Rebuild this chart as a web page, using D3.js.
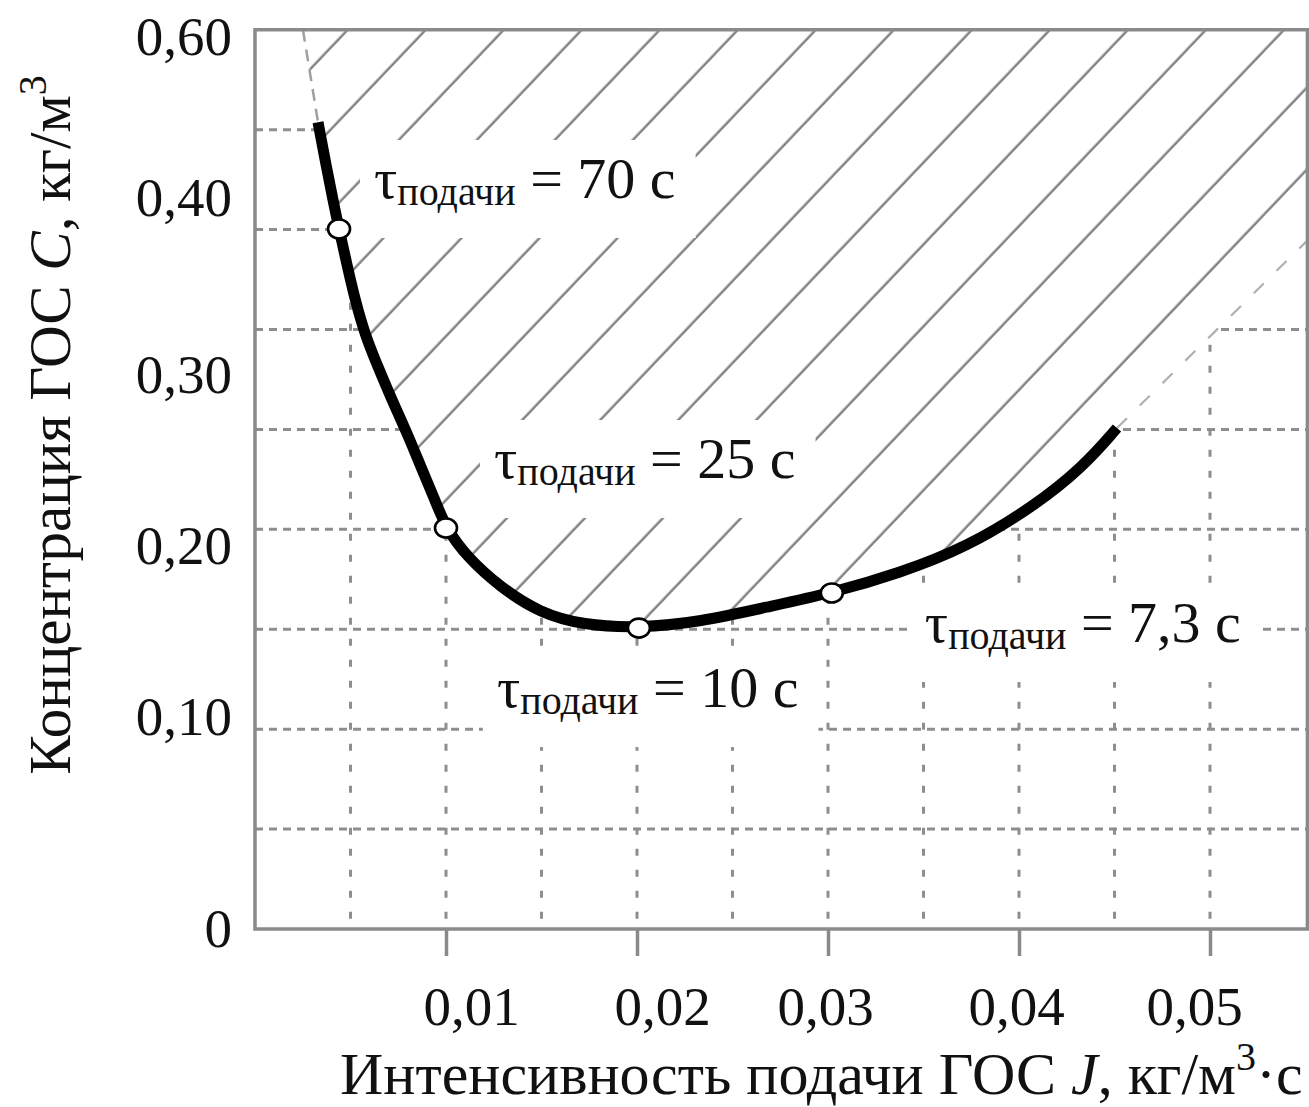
<!DOCTYPE html>
<html>
<head>
<meta charset="utf-8">
<script src="https://cdn.jsdelivr.net/npm/d3@7/dist/d3.min.js"></script>
<style>
body{margin:0;background:#fff}
svg{display:block}
text{font-family:"Liberation Serif","Times New Roman",serif;fill:#111}
</style>
</head>
<body>
<svg id="chart"></svg>
<script>
//curve: J (kg/m3 s) and C (kg/m3)
var curveJ=[0.0033,0.00372,0.00408,0.0044,0.00482,0.00524,0.00576,0.00644,0.00717,0.00796,0.00869,0.00942,0.0100,0.0111,0.01283,0.01492,0.01717,0.0201,0.0233,0.0268,0.0302,0.03377,0.03728,0.04073,0.04335,0.04513]
var curveC=[0.494,0.441,0.399,0.3825,0.3621,0.3424,0.3226,0.3045,0.2854,0.2661,0.2462,0.2269,0.2105,0.1936,0.176,0.1608,0.1538,0.152,0.1556,0.1643,0.1725,0.1842,0.1994,0.2228,0.2462,0.269]

//marked points and their feed times
var pointJ=[0.0044,0.0100,0.0201,0.0302]
var pointC=[0.3825,0.2105,0.152,0.1725]
var pointTau=["70","25","10","7,3"]

//dashed extensions of the boundary of the hatched zone
var leftExtJ=[0.00251,0.0033]
var leftExtC=[0.609,0.494]
var rightExtJ=[0.04513,0.0551]
var rightExtC=[0.269,0.376]

//axis ticks
var xTicks=[0.01,0.02,0.03,0.04,0.05]
var yTicks=[0,0.1,0.2,0.3,0.4,0.6]
var xGridStep=0.005
var xMax=0.0551
var yMax=0.609

var screen={width:1309,height:1107}
var svg=d3.select("#chart")
    .attr("width",screen.width)
    .attr("height",screen.height)

var xScale=d3.scaleLinear()
    .domain([0,0.05])
    .range([255,1210])
//the printed y axis is not evenly spaced, so the scale follows its labels
var yScale=d3.scaleLinear()
    .domain(yTicks)
    .range([929,717,546,375,198,37])

var plotLeft=xScale(0),plotRight=xScale(xMax),plotBottom=yScale(0),plotTop=yScale(yMax)

var comma=function(d){
    if(d==0){return "0"}
    return d3.format(".2f")(d).replace(".",",")
}

var zip=function(a,b){
    return a.map(function(v,i){return [v,b[i]]})
}
var curve=zip(curveJ,curveC)
var points=pointJ.map(function(j,i){return {J:j,C:pointC[i],tau:pointTau[i]}})

var line=d3.line()
    .x(function(d){return xScale(d[0])})
    .y(function(d){return yScale(d[1])})
    .curve(d3.curveBasis)
var straight=d3.line()
    .x(function(d){return xScale(d[0])})
    .y(function(d){return yScale(d[1])})

//hatch pattern, lines at about 46 degrees
var defs=svg.append("defs")
var hatchStep=56.5
var hatchRot=43.6
var ang=hatchRot*Math.PI/180
var hatchOff=((425.5*Math.cos(ang)+30*Math.sin(ang))%hatchStep)
var pat=defs.append("pattern")
    .attr("id","hatch")
    .attr("patternUnits","userSpaceOnUse")
    .attr("width",hatchStep)
    .attr("height",20)
    .attr("patternTransform","rotate("+hatchRot+")")
pat.append("rect").attr("width",hatchStep).attr("height",20).attr("fill","#fff")
pat.append("line")
    .attr("x1",hatchOff).attr("x2",hatchOff)
    .attr("y1",-1).attr("y2",21)
    .attr("stroke","#808080")
    .attr("stroke-width",2.4)

defs.append("clipPath").attr("id","plotclip")
    .append("rect")
    .attr("x",plotLeft).attr("y",plotTop)
    .attr("width",plotRight-plotLeft).attr("height",plotBottom-plotTop)

var plot=svg.append("g").attr("clip-path","url(#plotclip)")

//grid: vertical every 0.005, horizontal 8 evenly spaced rows
var gridX=d3.range(1,11).map(function(i){return i*xGridStep})
var rowScale=d3.scaleLinear().domain([0,9]).range([plotBottom,plotTop])
plot.append("g").selectAll("line")
    .data(gridX)
    .enter()
    .append("line")
    .attr("x1",function(d){return xScale(d)})
    .attr("x2",function(d){return xScale(d)})
    .attr("y1",plotTop).attr("y2",plotBottom)
    .attr("stroke","#8e8e8e")
    .attr("stroke-width",3)
    .attr("stroke-dasharray","7,14")
plot.append("g").selectAll("line")
    .data(d3.range(1,9))
    .enter()
    .append("line")
    .attr("x1",plotLeft).attr("x2",plotRight)
    .attr("y1",function(d){return rowScale(d)})
    .attr("y2",function(d){return rowScale(d)})
    .attr("stroke","#8e8e8e")
    .attr("stroke-width",3)
    .attr("stroke-dasharray","8,6")

//hatched zone above the curve
var zoneStart=[leftExtJ[0],yMax]
var zoneEnd=[[rightExtJ[1],rightExtC[1]],[rightExtJ[1],yMax]]
plot.append("path")
    .attr("d","M"+xScale(zoneStart[0])+","+yScale(zoneStart[1])
        +"L"+line(curve).slice(1)
        +"L"+straight(zoneEnd).slice(1)+"Z")
    .attr("fill","url(#hatch)")

//boundary extensions
plot.append("path")
    .attr("d",straight(zip(leftExtJ,leftExtC)))
    .attr("fill","none").attr("stroke","#a0a0a0").attr("stroke-width",2.5)
    .attr("stroke-dasharray","12,8")
plot.append("path")
    .attr("d",straight(zip(rightExtJ,rightExtC)))
    .attr("fill","none").attr("stroke","#b0b0b0").attr("stroke-width",2.2)
    .attr("stroke-dasharray","14,18")

//labels of feed time with white boxes
var labelShift=[[35,-31],[48,-50],[-142,79],[93,49]]
var boxLayer=plot.append("g")
var labelLayer=svg.append("g")
points.forEach(function(p,i){
    var t=labelLayer.append("text")
        .attr("x",xScale(p.J)+labelShift[i][0])
        .attr("y",yScale(p.C)+labelShift[i][1])
        .attr("font-size",58)
    t.append("tspan").text("τ")
    t.append("tspan").attr("font-size",40).attr("dy",7).text("подачи")
    t.append("tspan").attr("dy",-7).text(" = "+p.tau+" с")
    var b=t.node().getBBox()
    boxLayer.append("rect")
        .attr("x",b.x-14)
        .attr("y",b.y-6)
        .attr("width",b.width+34)
        .attr("height",b.height+30)
        .attr("fill","#fff")
})

//main curve
svg.append("path")
    .attr("d",line(curve))
    .attr("fill","none")
    .attr("stroke","#000")
    .attr("stroke-width",11)

svg.append("g").selectAll("ellipse")
    .data(points)
    .enter()
    .append("ellipse")
    .attr("cx",function(d){return xScale(d.J)})
    .attr("cy",function(d){return yScale(d.C)})
    .attr("rx",11)
    .attr("ry",9.5)
    .attr("fill","#fff")
    .attr("stroke","#000")
    .attr("stroke-width",2.6)

//frame
svg.append("rect")
    .attr("x",plotLeft).attr("y",plotTop)
    .attr("width",plotRight-plotLeft).attr("height",plotBottom-plotTop)
    .attr("fill","none")
    .attr("stroke","#8a8a8a")
    .attr("stroke-width",3.5)

//axes
var xLabelShift=[25,25,-3,-3,-16]
var xAxis=svg.append("g")
    .attr("transform","translate(0,"+plotBottom+")")
    .call(d3.axisBottom(xScale).tickValues(xTicks).tickSize(27).tickPadding(30).tickFormat(comma))
xAxis.select(".domain").remove()
xAxis.selectAll(".tick line").attr("stroke","#8a8a8a").attr("stroke-width",3.5)
xAxis.selectAll(".tick text")
    .attr("font-size",55)
    .attr("font-family","Liberation Serif")
    .attr("fill","#111")
    .attr("dx",function(d,i){return xLabelShift[i]})

var yAxis=svg.append("g")
    .attr("transform","translate("+plotLeft+",0)")
    .call(d3.axisLeft(yScale).tickValues(yTicks).tickSize(0).tickPadding(23).tickFormat(comma))
yAxis.select(".domain").remove()
yAxis.selectAll(".tick text")
    .attr("font-size",55)
    .attr("font-family","Liberation Serif")
    .attr("fill","#111")

//axis titles
var xt=svg.append("text")
    .attr("x",340)
    .attr("y",1094)
    .attr("font-size",60)
xt.append("tspan").text("Интенсивность подачи ГОС ")
xt.append("tspan").attr("font-style","italic").text("J")
xt.append("tspan").text(", кг/м")
xt.append("tspan").attr("font-size",40).attr("dy",-24).text("3")
xt.append("tspan").attr("dy",24).text("·с")

var yt=svg.append("text")
    .attr("transform","translate(70,425) rotate(-90)")
    .attr("text-anchor","middle")
    .attr("font-size",59)
yt.append("tspan").text("Концентрация ГОС ")
yt.append("tspan").attr("font-style","italic").text("C")
yt.append("tspan").text(", кг/м")
yt.append("tspan").attr("font-size",40).attr("dy",-24).text("3")
</script>
</body>
</html>
